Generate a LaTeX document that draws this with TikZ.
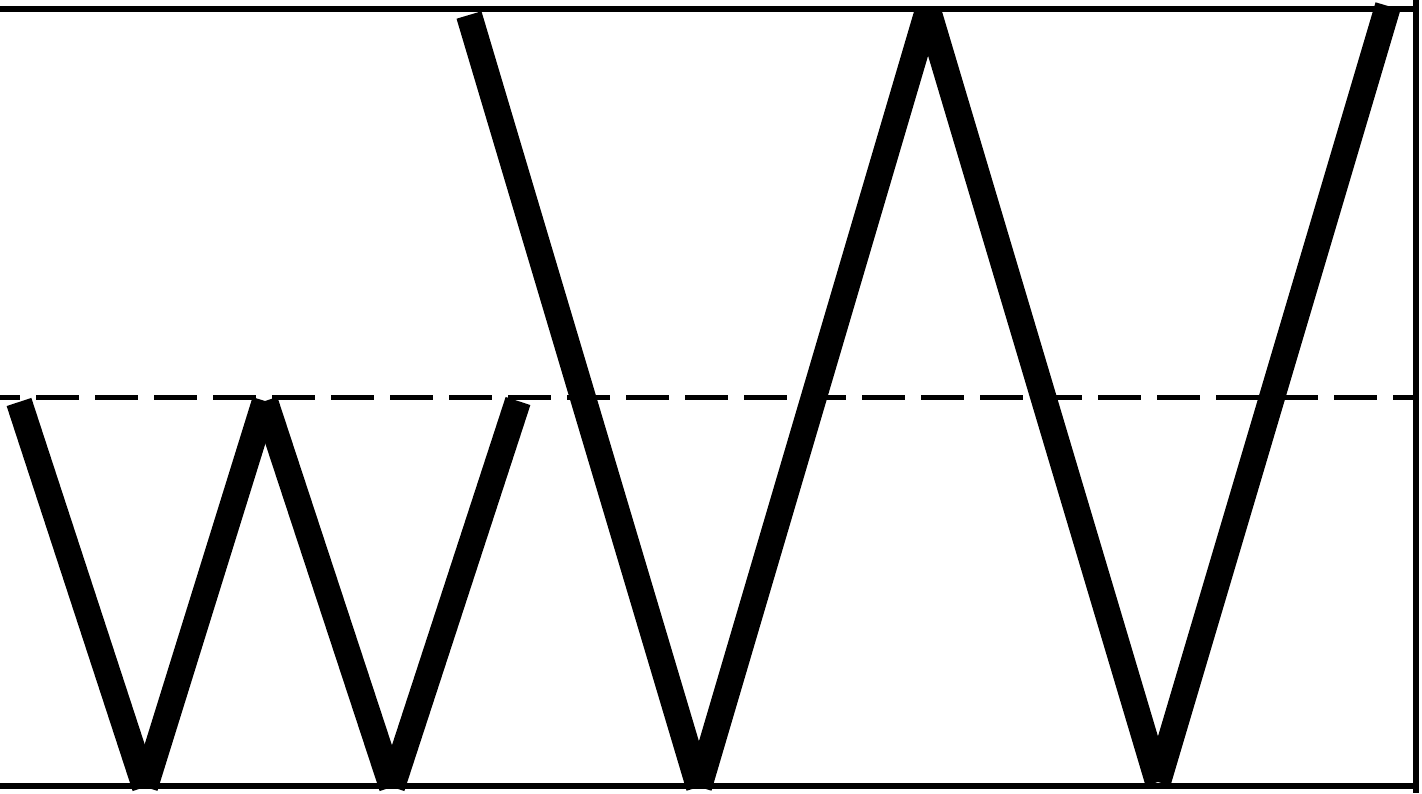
\documentclass[tikz,border=0pt]{standalone}
\begin{document}
\begin{tikzpicture}[x=1pt,y=-1pt,
  zig/.style={line width=26pt, line cap=butt},
  frameline/.style={line width=6pt},
  midline/.style={line width=5pt, dash pattern=on 43pt off 16pt, dash phase=23pt}]
\useasboundingbox (0,0) rectangle (1422,793);
% frame
\draw[frameline] (0,9) -- (1416,9);
\draw[frameline] (0,786) -- (1416,786);
\draw[frameline] (1415.7,0) -- (1415.7,793);
% dashed middle line
\draw[midline] (0,397.5) -- (1413,397.5);
% left zigzag
\coordinate (p1) at (19,402);
\coordinate (p2) at (145,787);
\coordinate (p3) at (265,401);
\coordinate (p4) at (392,787);
\coordinate (p5) at (518,401);
\draw[zig] (p1) -- (p2);
\draw[zig] (p2) -- (p3);
\draw[zig] (p3) -- (p4);
\draw[zig] (p4) -- (p5);
% right zigzag
\coordinate (q1) at (469,15);
\coordinate (q2) at (699,787);
\coordinate (q3) at (928,10);
\coordinate (q4) at (1158,782);
\coordinate (q5) at (1388,6);
\draw[zig] (q1) -- (q2);
\draw[zig] (q2) -- (q3);
\draw[zig] (q3) -- (q4);
\draw[zig] (q4) -- (q5);
\end{tikzpicture}
\end{document}
